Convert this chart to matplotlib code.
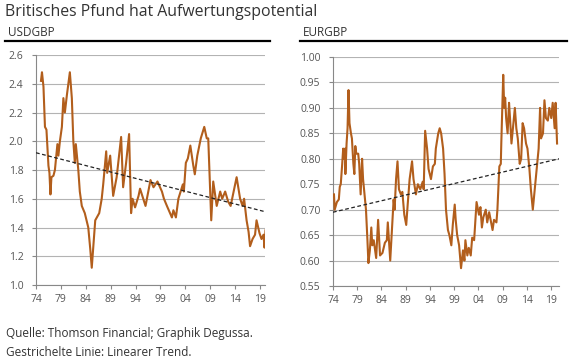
import matplotlib
matplotlib.use('Agg')
import matplotlib.pyplot as plt
from matplotlib.lines import Line2D

plt.rcParams['font.family'] = ['Open Sans', 'DejaVu Sans']

# USDGBP (years as decimal)
usd_years = [1975.0, 1975.2, 1975.5, 1975.8, 1976.1, 1976.5, 1976.7, 1976.9, 1977.1, 1977.5,
             1977.8, 1978.3, 1978.5, 1978.8, 1979.2, 1979.5, 1979.8, 1980.2, 1980.5, 1980.8,
             1981.2, 1981.5, 1981.8, 1982.0, 1982.5, 1982.8, 1983.2, 1983.8, 1984.5, 1984.9,
             1985.2, 1985.9, 1986.7, 1987.2, 1987.5, 1988.1, 1988.3, 1988.9, 1989.5, 1990.2,
             1991.1, 1991.5, 1992.1, 1992.7, 1993.1, 1993.4, 1993.9, 1994.6, 1994.9, 1996.0,
             1997.0, 1997.6, 1998.4, 1999.3, 1999.7, 2000.3, 2001.3, 2001.6, 2002.1, 2002.6,
             2003.5, 2003.7, 2004.1, 2004.5, 2005.0, 2005.6, 2005.9, 2006.4, 2007.1, 2007.8,
             2008.3, 2008.6, 2009.2, 2009.6, 2010.3, 2011.0, 2011.4, 2012.0, 2012.6, 2013.1,
             2014.0, 2014.3, 2015.0, 2015.5, 2015.8, 2016.3, 2016.7, 2017.0, 2017.5, 2018.0,
             2018.3, 2018.9, 2019.3, 2019.7, 2019.9, 2020.1]
usd_values = [2.42, 2.48, 2.38, 2.10, 2.08, 1.83, 1.78, 1.63, 1.75, 1.76,
              1.80, 1.98, 1.90, 2.00, 2.10, 2.30, 2.20, 2.32, 2.40, 2.48,
              2.30, 2.00, 1.85, 1.98, 1.80, 1.65, 1.55, 1.50, 1.40, 1.25,
              1.12, 1.45, 1.50, 1.60, 1.70, 1.93, 1.78, 1.90, 1.62, 1.75,
              2.03, 1.68, 1.85, 2.05, 1.50, 1.60, 1.54, 1.62, 1.67, 1.55,
              1.73, 1.68, 1.72, 1.65, 1.60, 1.55, 1.47, 1.52, 1.47, 1.60,
              1.70, 1.65, 1.85, 1.88, 1.97, 1.83, 1.77, 1.90, 2.02, 2.10,
              2.02, 2.02, 1.45, 1.72, 1.55, 1.65, 1.60, 1.65, 1.58, 1.55,
              1.70, 1.75, 1.60, 1.55, 1.60, 1.45, 1.37, 1.27, 1.32, 1.35,
              1.45, 1.36, 1.32, 1.35, 1.26, 1.38]
usd_trend_x = [1974.0, 2020.0]
usd_trend_y = [1.92, 1.51]

# EURGBP
eur_years = [1974.2, 1974.35, 1974.8, 1975.2, 1975.4, 1975.6, 1975.9, 1976.1, 1976.3, 1976.5,
             1976.55, 1976.8, 1977.0, 1977.2, 1977.4, 1977.7, 1977.9, 1978.2, 1978.4, 1978.6,
             1978.8, 1979.2, 1979.4, 1979.7, 1980.0, 1980.2, 1980.6, 1980.8, 1981.1, 1981.3,
             1981.6, 1981.9, 1982.1, 1982.4, 1982.9, 1983.3, 1983.7, 1984.2, 1984.7, 1985.1,
             1985.3, 1985.8, 1986.1, 1986.5, 1986.7, 1987.0, 1987.3, 1987.6, 1988.0, 1988.3,
             1988.7, 1989.1, 1989.4, 1989.8, 1990.3, 1990.6, 1991.1, 1991.5, 1992.0, 1992.5,
             1992.7, 1993.0, 1993.4, 1993.7, 1994.2, 1994.6, 1995.0, 1995.2, 1995.7, 1996.0,
             1996.3, 1996.7, 1997.0, 1997.3, 1997.7, 1998.0, 1998.4, 1998.7, 1999.1, 1999.3,
             1999.6, 2000.0, 2000.4, 2000.8, 2001.1, 2001.3, 2001.7, 2002.0, 2002.4, 2002.7,
             2003.1, 2003.3, 2003.6, 2003.9, 2004.1, 2004.4, 2004.7, 2005.0, 2005.5, 2005.8,
             2006.2, 2006.5, 2006.9, 2007.2, 2007.7, 2007.9, 2008.3, 2008.6, 2008.7, 2009.1,
             2009.3, 2009.5, 2009.7, 2010.0, 2010.3, 2010.5, 2010.8, 2011.1, 2011.5, 2011.8,
             2012.1, 2012.5, 2012.8, 2013.1, 2013.4, 2013.8, 2014.1, 2014.5, 2014.8, 2015.2,
             2015.5, 2016.0, 2016.4, 2016.7, 2016.9, 2017.3, 2017.6, 2017.9, 2018.3, 2018.6,
             2019.0, 2019.3, 2019.7, 2019.9, 2020.2]
eur_values = [0.73, 0.70, 0.715, 0.72, 0.745, 0.75, 0.79, 0.82, 0.80, 0.82,
              0.77, 0.83, 0.86, 0.935, 0.87, 0.85, 0.84, 0.79, 0.77, 0.825,
              0.81, 0.81, 0.79, 0.73, 0.80, 0.76, 0.72, 0.70, 0.64, 0.595,
              0.62, 0.665, 0.63, 0.64, 0.605, 0.68, 0.61, 0.615, 0.635, 0.64,
              0.675, 0.60, 0.65, 0.72, 0.70, 0.76, 0.795, 0.74, 0.73, 0.735,
              0.69, 0.67, 0.71, 0.76, 0.795, 0.76, 0.73, 0.75, 0.74, 0.755,
              0.74, 0.855, 0.82, 0.78, 0.76, 0.785, 0.79, 0.82, 0.85, 0.86,
              0.85, 0.82, 0.77, 0.70, 0.66, 0.65, 0.63, 0.67, 0.71, 0.68,
              0.65, 0.63, 0.585, 0.62, 0.60, 0.64, 0.61, 0.625, 0.61, 0.645,
              0.64, 0.67, 0.715, 0.70, 0.69, 0.705, 0.665, 0.685, 0.70, 0.675,
              0.695, 0.68, 0.66, 0.68, 0.675, 0.70, 0.785, 0.79, 0.83, 0.965,
              0.90, 0.92, 0.88, 0.85, 0.91, 0.88, 0.83, 0.86, 0.90, 0.86,
              0.84, 0.79, 0.80, 0.87, 0.86, 0.83, 0.82, 0.78, 0.74, 0.70,
              0.73, 0.78, 0.82, 0.90, 0.84, 0.85, 0.915, 0.88, 0.875, 0.90,
              0.88, 0.91, 0.86, 0.91, 0.83]
eur_trend_x = [1974.0, 2020.6]
eur_trend_y = [0.695, 0.80]

tick_years = [1974, 1979, 1984, 1989, 1994, 1999, 2004, 2009, 2014, 2019]
tick_labels = ['74', '79', '84', '89', '94', '99', '04', '09', '14', '19']

line_color = '#b25e1c'
grid_color = '#b3b3b3'
text_color = '#555555'

fig = plt.figure(figsize=(5.75, 3.63), dpi=100)

fig.text(5 / 575, 1 - 12 / 363, 'Britisches Pfund hat Aufwertungspotential',
         fontsize=11.4, color='#333333', va='center', ha='left')


def setup(ax, years, values, tx, ty, xlim, ylim, yticks, yfmt):
    for y in yticks:
        ax.axhline(y, color=grid_color, lw=0.8, zorder=0)
    ax.plot(years, values, color=line_color, lw=1.5, zorder=3)
    ax.plot(tx, ty, color='#222222', lw=0.9, ls=(0, (3, 2)), zorder=4)
    ax.set_xlim(*xlim)
    ax.set_ylim(*ylim)
    ax.set_yticks(yticks)
    ax.set_yticklabels([yfmt.format(v) for v in yticks])
    ax.set_xticks(tick_years)
    ax.set_xticklabels(tick_labels)
    for s in ['top', 'right']:
        ax.spines[s].set_visible(False)
    for s in ['left', 'bottom']:
        ax.spines[s].set_color('#888888')
        ax.spines[s].set_linewidth(0.8)
    ax.tick_params(axis='both', colors='#888888', labelcolor=text_color,
                   labelsize=7.5, length=3, width=0.8)
    ax.tick_params(axis='y', pad=6)


ax1 = fig.add_axes([36 / 575, 1 - 285 / 363, 229 / 575, 230 / 363])
setup(ax1, usd_years, usd_values, usd_trend_x, usd_trend_y, (1974, 2020.0), (1.0, 2.6),
      [1.0, 1.2, 1.4, 1.6, 1.8, 2.0, 2.2, 2.4, 2.6], '{:.1f}')

ax2 = fig.add_axes([333 / 575, 1 - 286 / 363, 226 / 575, 229 / 363])
setup(ax2, eur_years, eur_values, eur_trend_x, eur_trend_y, (1974, 2020.6), (0.55, 1.0),
      [0.55, 0.60, 0.65, 0.70, 0.75, 0.80, 0.85, 0.90, 0.95, 1.00], '{:.2f}')

# panel headers and rules
fig.text(8 / 575, 1 - 32 / 363, 'USDGBP', fontsize=8.5, color='#333333', va='center')
fig.text(303 / 575, 1 - 32 / 363, 'EURGBP', fontsize=8.5, color='#333333', va='center')
fig.add_artist(Line2D([5 / 575, 270 / 575], [1 - 41 / 363] * 2, color='black', lw=1.6))
fig.add_artist(Line2D([300 / 575, 567 / 575], [1 - 41 / 363] * 2, color='black', lw=1.6))

fig.text(6 / 575, 1 - 333 / 363, 'Quelle: Thomson Financial; Graphik Degussa.',
         fontsize=8.5, color='#333333', va='center')
fig.text(6 / 575, 1 - 352 / 363, 'Gestrichelte Linie: Linearer Trend.',
         fontsize=8.5, color='#333333', va='center')

fig.savefig('out.png', dpi=100)
